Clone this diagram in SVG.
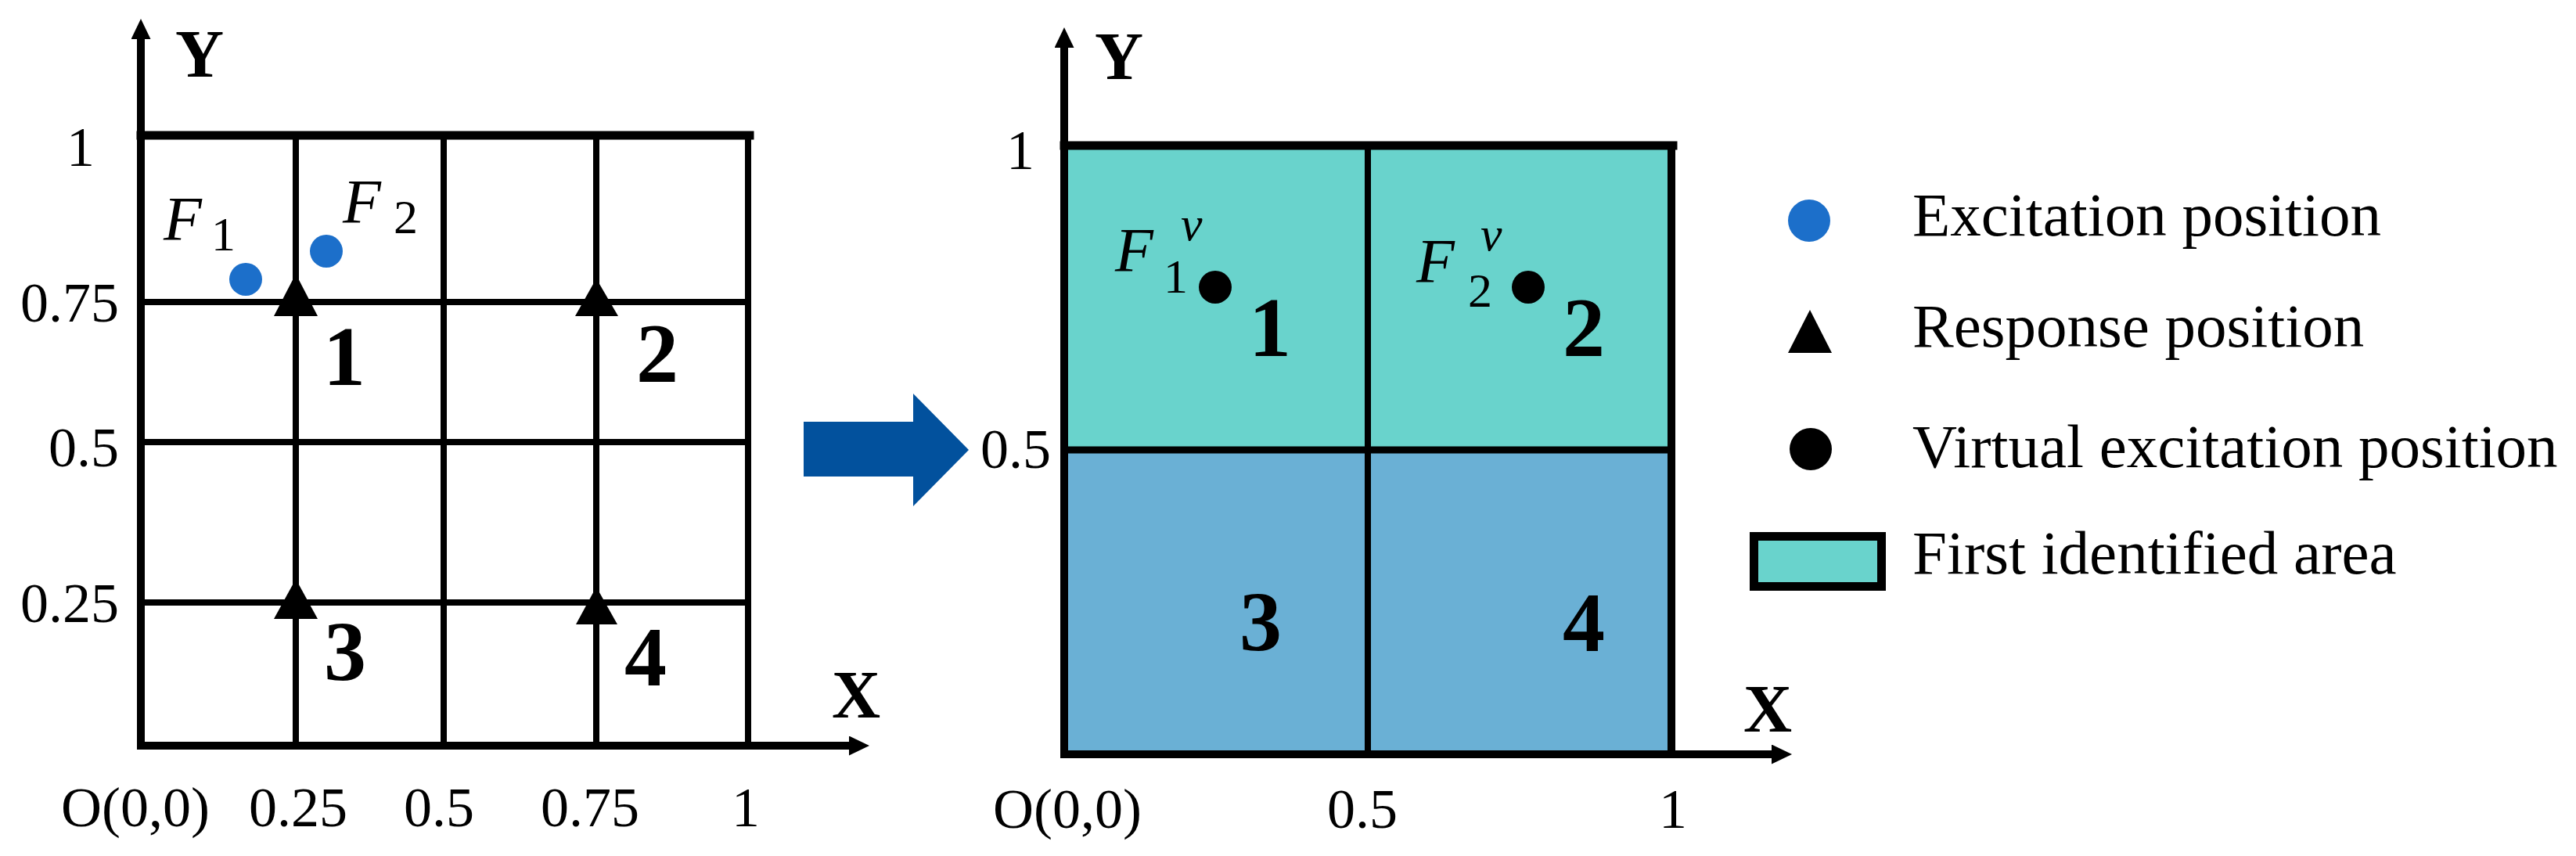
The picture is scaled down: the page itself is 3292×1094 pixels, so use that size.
<svg xmlns="http://www.w3.org/2000/svg" width="3292" height="1094" viewBox="0 0 3292 1094">
<style>
.ln{stroke:#000;fill:none;stroke-linecap:square}
.ax{stroke:#000;fill:none;stroke-width:10}
.t{font-family:"Liberation Serif","Times New Roman",serif;fill:#000}
.tick{font-size:72px}
.num{font-size:108px;font-weight:bold;text-anchor:middle}
.axl{font-size:86px;font-weight:bold;text-anchor:middle}
.fi{font-size:80px;font-style:italic}
.sub{font-size:62px}
.lg{font-size:79px}
.tri{fill:#000}
</style>
<defs>
<marker id="ah" markerUnits="userSpaceOnUse" markerWidth="27" markerHeight="26" refX="0" refY="12.5" orient="auto">
<path d="M0,0 L26,12.5 L0,25 z" fill="#000"/>
</marker>
</defs>
<rect width="3292" height="1094" fill="#fff"/>

<g id="left-panel">
  <g id="left-grid">
    <line class="ln" x1="378" y1="173" x2="378" y2="953" stroke-width="8"/>
    <line class="ln" x1="567" y1="173" x2="567" y2="953" stroke-width="8"/>
    <line class="ln" x1="762" y1="173" x2="762" y2="953" stroke-width="8"/>
    <line class="ln" x1="956" y1="173" x2="956" y2="953" stroke-width="8"/>
    <line class="ln" x1="180" y1="386" x2="956" y2="386" stroke-width="8"/>
    <line class="ln" x1="180" y1="565" x2="956" y2="565" stroke-width="8"/>
    <line class="ln" x1="180" y1="770" x2="956" y2="770" stroke-width="8"/>
    <line class="ln" x1="180" y1="173" x2="958" y2="173" stroke-width="11"/>
  </g>
  <g id="left-axes">
    <line class="ax" x1="180" y1="958" x2="180" y2="50" marker-end="url(#ah)"/>
    <line class="ax" x1="175" y1="953" x2="1085" y2="953" stroke-width="11" marker-end="url(#ah)"/>
    <text class="t axl" x="255" y="98">Y</text>
    <text class="t axl" x="1094" y="917">X</text>
  </g>
  <g id="left-ticks" class="t tick">
    <text x="103" y="212" text-anchor="middle">1</text>
    <text x="152" y="411" text-anchor="end">0.75</text>
    <text x="152" y="596" text-anchor="end">0.5</text>
    <text x="152" y="795" text-anchor="end">0.25</text>
    <text x="173" y="1056" text-anchor="middle">O(0,0)</text>
    <text x="381" y="1056" text-anchor="middle">0.25</text>
    <text x="561" y="1056" text-anchor="middle">0.5</text>
    <text x="754" y="1056" text-anchor="middle">0.75</text>
    <text x="953" y="1056" text-anchor="middle">1</text>
  </g>
  <g id="excitation-F1">
    <circle cx="314" cy="357" r="21" fill="#1c6fca"/>
    <text class="t fi" x="209" y="307">F</text>
    <text class="t sub" x="270" y="320">1</text>
  </g>
  <g id="excitation-F2">
    <circle cx="417" cy="321" r="21" fill="#1c6fca"/>
    <text class="t fi" x="438" y="285">F</text>
    <text class="t sub" x="503" y="298">2</text>
  </g>
  <g id="response-1">
    <polygon class="tri" points="378,350 350,404 406,404"/>
    <text class="t num" x="440" y="492">1</text>
  </g>
  <g id="response-2">
    <polygon class="tri" points="762,356 735,404 790,404"/>
    <text class="t num" x="840" y="488">2</text>
  </g>
  <g id="response-3">
    <polygon class="tri" points="378,740 350,791 406,791"/>
    <text class="t num" x="441" y="869">3</text>
  </g>
  <g id="response-4">
    <polygon class="tri" points="762,750 736,798 789,798"/>
    <text class="t num" x="825" y="876">4</text>
  </g>
</g>

<g id="connectors">
  <polygon id="transition-arrow" points="1027,539 1167,539 1167,503 1238,575 1167,647 1167,609 1027,609" fill="#02519d"/>
</g>

<g id="right-panel">
  <g id="area-1-2">
    <rect x="1360" y="186" width="776" height="389" fill="#69d3cc"/>
  </g>
  <g id="area-3-4">
    <rect x="1360" y="575" width="776" height="389" fill="#6ab0d5"/>
  </g>
  <g id="right-grid">
    <line class="ln" x1="1748" y1="186" x2="1748" y2="964" stroke-width="8"/>
    <line class="ln" x1="1360" y1="575" x2="2136" y2="575" stroke-width="9"/>
    <line class="ln" x1="2136" y1="186" x2="2136" y2="964" stroke-width="10"/>
    <line class="ln" x1="1360" y1="186" x2="2138" y2="186" stroke-width="11"/>
  </g>
  <g id="right-axes">
    <line class="ax" x1="1360" y1="969" x2="1360" y2="61" marker-end="url(#ah)"/>
    <line class="ax" x1="1355" y1="964" x2="2264" y2="964" marker-end="url(#ah)"/>
    <text class="t axl" x="1430" y="101">Y</text>
    <text class="t axl" x="2259" y="935">X</text>
  </g>
  <g id="right-ticks" class="t tick">
    <text x="1304" y="216" text-anchor="middle">1</text>
    <text x="1343" y="598" text-anchor="end">0.5</text>
    <text x="1364" y="1058" text-anchor="middle">O(0,0)</text>
    <text x="1741" y="1058" text-anchor="middle">0.5</text>
    <text x="2138" y="1058" text-anchor="middle">1</text>
  </g>
  <g id="virtual-F1">
    <circle cx="1553" cy="367" r="21" fill="#000"/>
    <text class="t fi" x="1425" y="347">F</text>
    <text class="t sub" x="1487" y="374">1</text>
    <text class="t sub" font-style="italic" x="1509" y="307">v</text>
    <text class="t num" x="1623" y="455">1</text>
  </g>
  <g id="virtual-F2">
    <circle cx="1953" cy="367" r="21" fill="#000"/>
    <text class="t fi" x="1810" y="361">F</text>
    <text class="t sub" x="1876" y="392">2</text>
    <text class="t sub" font-style="italic" x="1892" y="320">v</text>
    <text class="t num" x="2024" y="455">2</text>
  </g>
  <g id="area-labels-3-4">
    <text class="t num" x="1611" y="831">3</text>
    <text class="t num" x="2024" y="832">4</text>
  </g>
</g>

<g id="legend">
  <g id="legend-excitation">
    <circle cx="2312" cy="282" r="27" fill="#1c6fca"/>
    <text class="t lg" x="2444" y="301">Excitation position</text>
  </g>
  <g id="legend-response">
    <polygon class="tri" points="2313,396 2285,451 2341,451"/>
    <text class="t lg" x="2444" y="443">Response position</text>
  </g>
  <g id="legend-virtual">
    <circle cx="2314" cy="574" r="27" fill="#000"/>
    <text class="t lg" x="2444" y="597">Virtual excitation position</text>
  </g>
  <g id="legend-area">
    <rect x="2241.5" y="685.5" width="163" height="64" fill="#69d3cc" stroke="#000" stroke-width="11"/>
    <text class="t lg" x="2444" y="733">First identified area</text>
  </g>
</g>
</svg>
